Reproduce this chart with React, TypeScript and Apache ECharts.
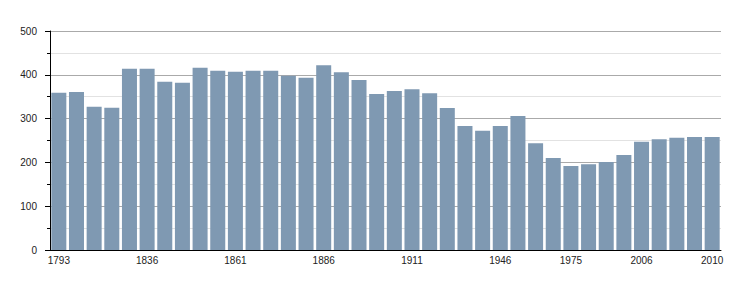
import React, { useEffect, useRef } from "react";
import * as echarts from "echarts";

const years = [
  "1793", "1800", "1806", "1821", "1831", "1836", "1841", "1846", "1851", "1856",
  "1861", "1866", "1872", "1876", "1881", "1886", "1891", "1896", "1901", "1906",
  "1911", "1921", "1926", "1931", "1936", "1946", "1954", "1962", "1968", "1975",
  "1982", "1990", "1999", "2006", "2007", "2008", "2009", "2010",
];

const population = [
  359, 361, 327, 325, 414, 414, 384, 382, 416, 409,
  407, 409, 409, 398, 393, 422, 406, 388, 356, 363,
  367, 358, 324, 283, 272, 283, 306, 244, 210, 192,
  196, 201, 217, 247, 253, 256, 258, 258,
];

const labeledYears = ["1793", "1836", "1861", "1886", "1911", "1946", "1975", "2006", "2010"];

const yTicks = { min: 0, max: 500, interval: 100 };

export default function App() {
  const ref = useRef<HTMLDivElement>(null);

  useEffect(() => {
    if (!ref.current) return;
    const chart = echarts.init(ref.current, undefined, { renderer: "svg" });
    chart.setOption({
      animation: false,
      backgroundColor: "#ffffff",
      textStyle: { fontFamily: "Liberation Sans, Arial, sans-serif" },
      grid: { left: 50, right: 29, top: 31, bottom: 50, containLabel: false },
      xAxis: {
        type: "category",
        data: years,
        boundaryGap: true,
        axisLine: { show: true, lineStyle: { color: "#000", width: 1 } },
        axisTick: { show: false },
        axisLabel: {
          interval: (_i: number, v: string) => labeledYears.includes(v),
          color: "#222",
          fontSize: 10,
          margin: 5,
          fontFamily: "Liberation Sans, Arial, sans-serif",
        },
        splitLine: { show: false },
      },
      yAxis: {
        type: "value",
        min: yTicks.min,
        max: yTicks.max,
        interval: yTicks.interval,
        axisLine: { show: true, lineStyle: { color: "#000", width: 1 } },
        axisTick: { show: true, length: 5, lineStyle: { color: "#000" } },
        minorTick: { show: true, splitNumber: 2, length: 3, lineStyle: { color: "#000" } },
        axisLabel: {
          color: "#222",
          fontSize: 10,
          margin: 13,
          fontFamily: "Liberation Sans, Arial, sans-serif",
        },
        splitLine: { show: true, lineStyle: { color: "#aaaaaa", width: 1 } },
        minorSplitLine: { show: true, lineStyle: { color: "#e2e2e2", width: 1 } },
      },
      series: [
        {
          type: "bar",
          data: population,
          barCategoryGap: "15%",
          itemStyle: { color: "#7f99b2" },
        },
      ],
    });
    return () => chart.dispose();
  }, []);

  return <div ref={ref} style={{ width: 750, height: 300, margin: -8 }} />;
}
